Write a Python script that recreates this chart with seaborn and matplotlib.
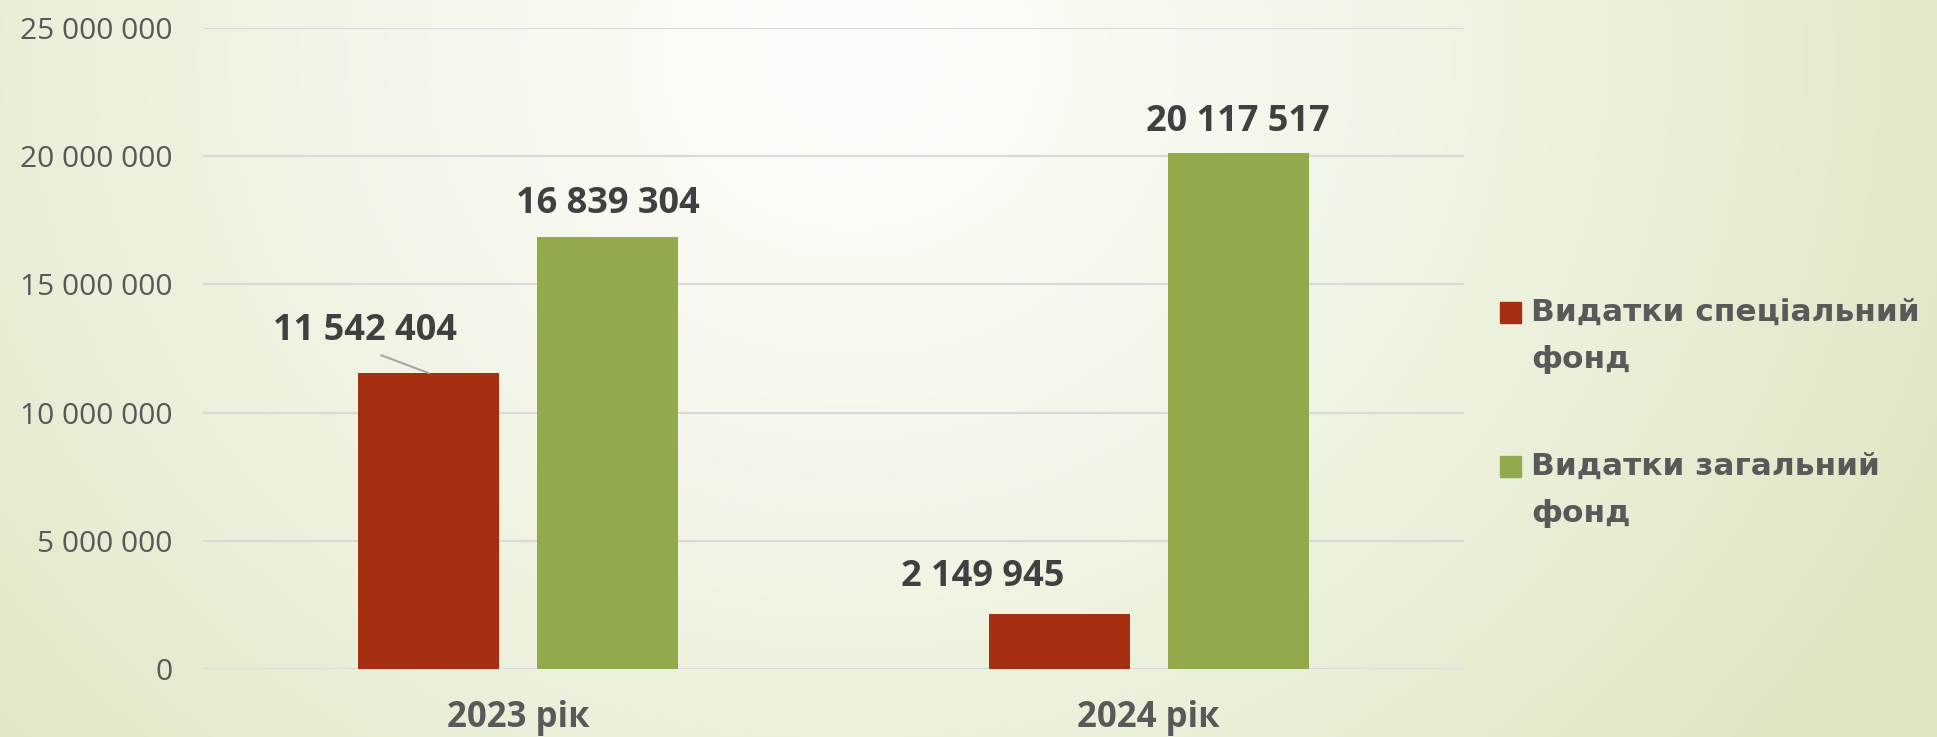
import numpy as np
import pandas as pd
import matplotlib
matplotlib.use("Agg")
import matplotlib.pyplot as plt
import matplotlib.patches as mpatches
import seaborn as sns

# chart data
years = ["2023 рік", "2024 рік"]
funds = ["Видатки спеціальний фонд", "Видатки загальний фонд"]
special = [11542404, 2149945]
general = [16839304, 20117517]
legend_labels = ["Видатки спеціальний\nфонд", "Видатки загальний\nфонд"]
yticks = [0, 5000000, 10000000, 15000000, 20000000, 25000000]

colors = ["#a52f10", "#93aa4c"]

df = pd.DataFrame({
    "year": years * 2,
    "fund": [funds[0]] * 2 + [funds[1]] * 2,
    "value": special + general,
})

sns.set_style("white")
plt.rcParams["font.family"] = ["Open Sans", "DejaVu Sans"]

W, H = 1937, 737
fig = plt.figure(figsize=(W / 100, H / 100), dpi=100)

# background radial gradient (pale green, white near top centre)
yy, xx = np.mgrid[0:H, 0:W]
d = np.sqrt(((xx - 850) / 1.0) ** 2 + ((yy - 60) / 0.9) ** 2)
t = np.clip(d / 1200, 0, 1)[..., None] ** 1.3
white = np.array([252, 253, 249]) / 255
green = np.array([221, 231, 195]) / 255
img = white * (1 - t) + green * t
bg = fig.add_axes([0, 0, 1, 1], zorder=0)
bg.imshow(img, aspect="auto", extent=[0, 1, 0, 1])
bg.axis("off")

ax = fig.add_axes([203 / W, 68 / H, (1464 - 203) / W, (669 - 28) / H], zorder=1)
ax.set_facecolor("none")

sns.barplot(data=df, x="year", y="value", hue="fund", palette=colors,
            width=0.568, gap=0.212, legend=False, ax=ax, saturation=1,
            linewidth=0)

ax.set_xlim(-0.5, 1.5)
ax.set_ylim(0, 25000000)
ax.set_yticks(yticks)
ax.set_yticklabels([f"{v:,}".replace(",", " ") for v in yticks],
                   fontsize=21.5, color="#595959")
ax.set_xticks(range(len(years)))
ax.set_xticklabels(years, fontsize=25, fontweight="bold", color="#595959")
ax.tick_params(axis="y", length=0, pad=22)
ax.tick_params(axis="x", length=0, pad=22)
ax.set_xlabel("")
ax.set_ylabel("")
ax.yaxis.grid(True, color="#d9d9d9", linewidth=1.5)
ax.set_axisbelow(True)
for s in ax.spines.values():
    s.set_visible(False)

# data labels
offsets = [[(-64, 42), (-77, 37)], [(0, 33), (0, 31)]]
values = [special, general]
for ci, cont in enumerate(ax.containers):
    for bi, bar in enumerate(cont):
        x = bar.get_x() + bar.get_width() / 2
        y = bar.get_height()
        txt = f"{values[ci][bi]:,}".replace(",", " ")
        arrow = None
        if ci == 0 and bi == 0:
            arrow = dict(arrowstyle="-", color="#a6a6a6", lw=1.5,
                         shrinkA=6, shrinkB=0, relpos=(0.5, 0))
        ax.annotate(txt, (x, y), xytext=offsets[ci][bi], textcoords="offset pixels",
                    ha="center", va="center", fontsize=26, fontweight="bold",
                    color="#404040", arrowprops=arrow, annotation_clip=False)

# legend drawn by hand so the square sits on the first line
leg_y = [312, 466]
for i, lab in enumerate(legend_labels):
    fig.patches.append(mpatches.Rectangle((1500 / W, 1 - (leg_y[i] + 10.5) / H), 21 / W, 21 / H,
                                          transform=fig.transFigure, color=colors[i]))
    fig.text(1531 / W, 1 - (leg_y[i] - 14) / H, lab, fontsize=22.5, fontweight="bold",
             color="#595959", va="top", ha="left", linespacing=1.78,
             family=["DejaVu Sans"])

fig.savefig("out.png", dpi=100)
